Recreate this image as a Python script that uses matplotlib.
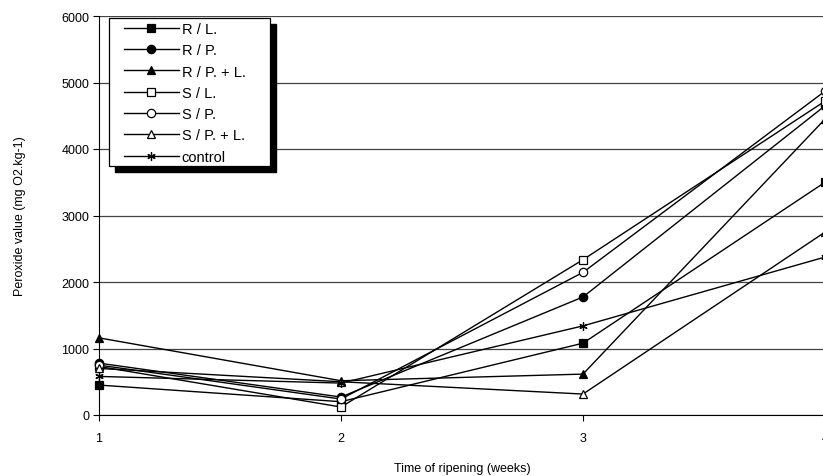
import matplotlib
matplotlib.use('Agg')
import matplotlib.pyplot as plt
from matplotlib.patches import Rectangle

plt.rcParams['font.family'] = ['Liberation Sans', 'DejaVu Sans']

weeks = [1, 2, 3, 4]
labels = ['R / L.', 'R / P.', 'R / P. + L.', 'S / L.', 'S / P.', 'S / P. + L.', 'control']
r_l = [450, 200, 1080, 3500]
r_p = [780, 270, 1775, 4650]
r_pl = [1160, 515, 615, 4450]
s_l = [730, 120, 2335, 4720]
s_p = [750, 240, 2145, 4870]
s_pl = [700, 500, 315, 2750]
control = [580, 480, 1340, 2375]

series = [r_l, r_p, r_pl, s_l, s_p, s_pl, control]
markers = ['s', 'o', '^', 's', 'o', '^', (6, 2, 0)]
fills = ['k', 'k', 'k', 'w', 'w', 'w', 'k']

W, H = 823, 477
fig = plt.figure(figsize=(W / 100, H / 100), dpi=100)
ax = fig.add_axes([99 / W, 61 / H, 726 / W, 399 / H])

for vals, lab, m, fc in zip(series, labels, markers, fills):
    ax.plot(weeks, vals, color='k', lw=1, marker=m, markersize=6,
            markerfacecolor=fc, markeredgecolor='k', markeredgewidth=0.9,
            label=lab, clip_on=False, zorder=3)

ax.set_xlim(1, 4)
ax.set_ylim(0, 6000)
ax.set_xticks(weeks)
ax.set_yticks(range(0, 6001, 1000))
ax.yaxis.grid(True, color='#444444', lw=0.9)
ax.set_axisbelow(True)
for s in ['top', 'right']:
    ax.spines[s].set_visible(False)
ax.tick_params(labelsize=9, length=4, width=0.8, direction='out', pad=3)
ax.tick_params(axis='x', pad=8)
ax.set_xlabel('Time of ripening (weeks)', fontsize=9, labelpad=13)
ax.set_ylabel('Peroxide value (mg O2.kg-1)', fontsize=9)
ax.yaxis.set_label_coords(-0.101, 0.5)

# legend box with solid black shadow, as in the original
box = dict(width=161 / W, height=148 / H)
fig.patches.append(Rectangle((115 / W, 1 - 173 / H), transform=fig.transFigure,
                             facecolor='k', edgecolor='k', zorder=5, **box))
fig.patches.append(Rectangle((109 / W, 1 - 167 / H), transform=fig.transFigure,
                             facecolor='w', edgecolor='k', lw=0.9, zorder=6, **box))

leg = fig.legend(loc='upper left', bbox_to_anchor=(124 / W, 1 - 23 / H),
                 fontsize=10.5, frameon=False, handlelength=3.75,
                 handletextpad=0.2, borderpad=0, labelspacing=0.5,
                 borderaxespad=0)
leg.set_zorder(7)

fig.savefig('out.png', dpi=100)
